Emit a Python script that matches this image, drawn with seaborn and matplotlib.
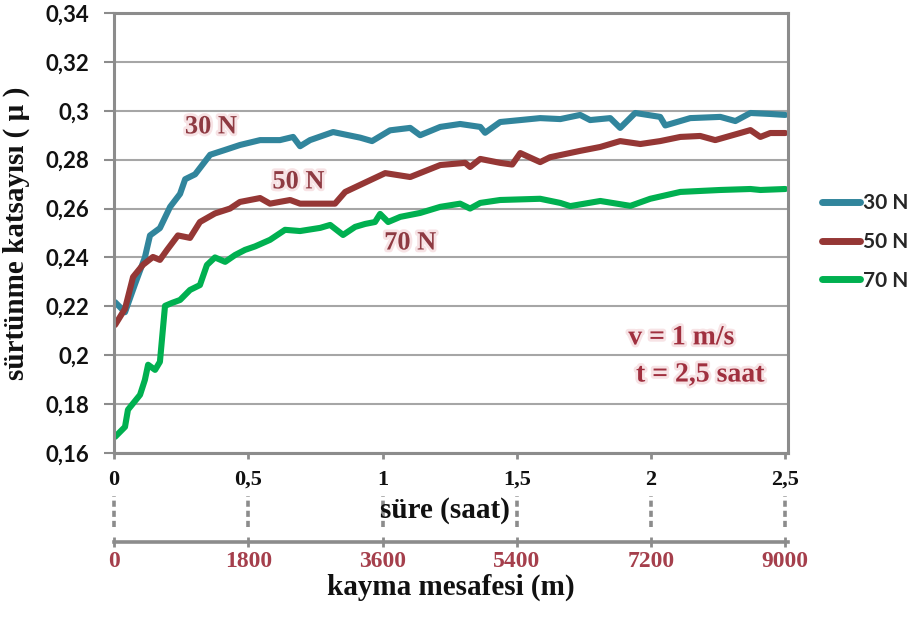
import numpy as np
import pandas as pd
import matplotlib
matplotlib.use("Agg")
import matplotlib.pyplot as plt
import matplotlib.patheffects as pe
from matplotlib.lines import Line2D
import seaborn as sns

# ---- data: time (hours) vs friction coefficient for three loads ----
t_30 = [0.004, 0.041, 0.078, 0.115, 0.134, 0.171, 0.209, 0.246, 0.265, 0.302,
        0.358, 0.414, 0.469, 0.544, 0.618, 0.667, 0.693, 0.730, 0.816, 0.917,
        0.961, 1.028, 1.103, 1.140, 1.215, 1.289, 1.364, 1.382, 1.438, 1.513,
        1.587, 1.662, 1.736, 1.773, 1.848, 1.885, 1.941, 2.034, 2.053, 2.146,
        2.258, 2.314, 2.370, 2.444, 2.500]
mu_30 = [0.2217, 0.2176, 0.2290, 0.2400, 0.2490, 0.2520, 0.2607, 0.2660, 0.2720, 0.2740,
         0.2820, 0.2840, 0.2860, 0.2880, 0.2880, 0.2893, 0.2855, 0.2880, 0.2913, 0.2890,
         0.2876, 0.2920, 0.2930, 0.2900, 0.2934, 0.2946, 0.2934, 0.2910, 0.2954, 0.2962,
         0.2970, 0.2966, 0.2983, 0.2962, 0.2970, 0.2930, 0.2991, 0.2975, 0.2940, 0.2970,
         0.2975, 0.2958, 0.2991, 0.2987, 0.2983]

t_50 = [0.004, 0.041, 0.071, 0.108, 0.145, 0.171, 0.197, 0.238, 0.283, 0.320,
        0.376, 0.432, 0.469, 0.544, 0.581, 0.656, 0.693, 0.768, 0.823, 0.861,
        0.917, 1.010, 1.103, 1.215, 1.308, 1.326, 1.364, 1.438, 1.483, 1.513,
        1.587, 1.624, 1.736, 1.811, 1.885, 1.960, 2.034, 2.109, 2.183, 2.239,
        2.332, 2.370, 2.407, 2.444, 2.500]
mu_50 = [0.2124, 0.2190, 0.2320, 0.2370, 0.2402, 0.2390, 0.2430, 0.2490, 0.2480, 0.2545,
         0.2580, 0.2600, 0.2627, 0.2643, 0.2620, 0.2635, 0.2620, 0.2620, 0.2620, 0.2668,
         0.2697, 0.2745, 0.2729, 0.2778, 0.2787, 0.2770, 0.2803, 0.2787, 0.2780, 0.2827,
         0.2790, 0.2810, 0.2836, 0.2852, 0.2876, 0.2864, 0.2876, 0.2893, 0.2897, 0.2880,
         0.2909, 0.2921, 0.2893, 0.2909, 0.2909]

t_70 = [0.004, 0.041, 0.052, 0.097, 0.115, 0.127, 0.153, 0.171, 0.190, 0.216,
        0.246, 0.283, 0.320, 0.346, 0.376, 0.414, 0.451, 0.488, 0.525, 0.581,
        0.637, 0.693, 0.768, 0.805, 0.853, 0.898, 0.935, 0.972, 0.991, 1.021,
        1.066, 1.140, 1.215, 1.289, 1.326, 1.364, 1.438, 1.587, 1.662, 1.699,
        1.811, 1.923, 1.997, 2.109, 2.183, 2.258, 2.370, 2.407, 2.500]
mu_70 = [0.1666, 0.1707, 0.1777, 0.1838, 0.1899, 0.1961, 0.1940, 0.1973, 0.2202, 0.2214,
         0.2226, 0.2267, 0.2287, 0.2369, 0.2400, 0.2382, 0.2410, 0.2431, 0.2445, 0.2472,
         0.2513, 0.2508, 0.2521, 0.2533, 0.2492, 0.2525, 0.2537, 0.2545, 0.2578, 0.2545,
         0.2566, 0.2582, 0.2607, 0.2620, 0.2600, 0.2623, 0.2635, 0.2640, 0.2623, 0.2610,
         0.2631, 0.2611, 0.2640, 0.2668, 0.2672, 0.2676, 0.2680, 0.2676, 0.2680]

loads = ["30 N", "50 N", "70 N"]
colors = ["#31859c", "#953735", "#00b050"]

hour_ticks = [0, 0.5, 1, 1.5, 2, 2.5]
hour_labels = ["0", "0,5", "1", "1,5", "2", "2,5"]
dist_ticks = [0, 1800, 3600, 5400, 7200, 9000]
dist_labels = ["0", "1800", "3600", "5400", "7200", "9000"]
mu_ticks = [0.16, 0.18, 0.20, 0.22, 0.24, 0.26, 0.28, 0.30, 0.32, 0.34]
mu_labels = ["0,16", "0,18", "0,2", "0,22", "0,24", "0,26", "0,28", "0,3", "0,32", "0,34"]

df = pd.concat([
    pd.DataFrame({"saat": t, "mu": m, "yük": name})
    for t, m, name in zip([t_30, t_50, t_70], [mu_30, mu_50, mu_70], loads)
], ignore_index=True)

# ---- styling ----
sns.set_theme(style="white")
plt.rcParams["lines.solid_joinstyle"] = "round"
plt.rcParams["lines.solid_capstyle"] = "round"
SERIF = "Liberation Serif"
SANS = "Lato"
GRAY = "#8c8c8c"
RED_TXT = "#8e3a42"

fig = plt.figure(figsize=(9.15, 6.21), dpi=100)
ax = fig.add_axes([114 / 915, 1 - 453 / 621, 674 / 915, 440 / 621])

sns.lineplot(data=df, x="saat", y="mu", hue="yük", palette=colors,
             linewidth=4.4, legend=False, ax=ax, sort=False)

ax.set_xlim(0, 2.51)
ax.set_ylim(0.16, 0.34)
ax.set_yticks(mu_ticks)
ax.set_yticklabels(mu_labels, fontfamily=SANS, fontweight="bold", fontsize=16, color="#111111")
ax.set_xticks(hour_ticks)
ax.set_xticklabels(hour_labels, fontfamily=SERIF, fontweight="bold", fontsize=16, color="#111111")
ax.tick_params(axis="y", length=7, width=1.5, color=GRAY, pad=11, left=True)
ax.tick_params(axis="x", length=4, width=2, color=GRAY, pad=8, bottom=True)

ax.grid(axis="y", color="#a6a6a6", linewidth=1.5)
ax.grid(axis="x", visible=False)
for sp in ax.spines.values():
    sp.set_color(GRAY)
    sp.set_linewidth(2.2)

ax.set_xlabel("")
ax.set_ylabel("sürtünme katsayısı ( µ )", fontfamily=SERIF, fontweight="bold",
              fontsize=21, color="#111111", labelpad=11)

# dotted drop marks between the time labels and the distance axis
ax.vlines(hour_ticks, -0.168, -0.098, transform=ax.get_xaxis_transform(),
          clip_on=False, colors=GRAY, linewidth=2.6, linestyles=(0, (1.7, 1.1)))

ax.text(445 / 915, 1 - 510 / 621, "süre (saat)", transform=fig.transFigure,
        ha="center", va="center", fontfamily=SERIF, fontweight="bold",
        fontsize=21, color="#111111")

# secondary axis: sliding distance in metres (1 m/s)
sec = ax.secondary_xaxis(-(542 - 453) / 440,
                         functions=(lambda h: h * 3600, lambda m: m / 3600))
sec.set_xticks(dist_ticks)
sec.set_xticklabels(dist_labels, fontfamily=SERIF, fontweight="bold",
                    fontsize=17, color="#a53f4c")
sec.tick_params(axis="x", direction="inout", length=7, width=2, color=GRAY, pad=3)
sec.spines["bottom"].set_color(GRAY)
sec.spines["bottom"].set_linewidth(2.6)
sec.set_xlabel("kayma mesafesi (m)", fontfamily=SERIF, fontweight="bold",
               fontsize=21, color="#111111", labelpad=1)

# in-plot labels
glow = [pe.withStroke(linewidth=4, foreground="#f7e3e5")]
for txt, x, y in [("30 N", 0.361, 0.2934), ("50 N", 0.687, 0.2709), ("70 N", 1.103, 0.2459)]:
    ax.text(x, y, txt, ha="center", va="center", fontfamily=SERIF, fontweight="bold",
            fontsize=19, color=RED_TXT, path_effects=glow)
ax.text(2.113, 0.2071, "v = 1 m/s", ha="center", va="center", fontfamily=SERIF,
        fontweight="bold", fontsize=20, color="#a0303f", path_effects=glow)
ax.text(2.183, 0.1919, "t = 2,5 saat", ha="center", va="center", fontfamily=SERIF,
        fontweight="bold", fontsize=20, color="#a0303f", path_effects=glow)

# legend
handles = [Line2D([0], [0], color=c, linewidth=5, solid_capstyle="round") for c in colors]
leg = fig.legend(handles, loads, loc="center left", bbox_to_anchor=(822 / 915, 1 - 242 / 621),
                 frameon=False, handlelength=1.8, handletextpad=0.15, labelspacing=0.9,
                 borderpad=0, borderaxespad=0,
                 prop={"family": SANS, "weight": "bold", "size": 15})

fig.savefig("out.png", dpi=100)
